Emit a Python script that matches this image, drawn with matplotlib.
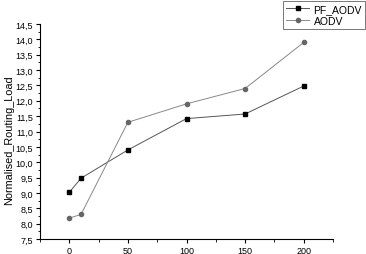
import matplotlib
matplotlib.use("Agg")
import matplotlib.pyplot as plt
from matplotlib.ticker import MultipleLocator, FuncFormatter

x = [0, 10, 50, 100, 150, 200]
pf_aodv = [9.02, 9.48, 10.4, 11.42, 11.57, 12.48]
aodv = [8.18, 8.3, 11.3, 11.9, 12.4, 13.9]

plt.rcParams['font.family'] = ['Liberation Sans', 'DejaVu Sans']
fig = plt.figure(figsize=(3.66, 2.55), dpi=100)
ax = fig.add_axes([40/366, 15/255, 293/366, 215/255])

ax.plot(x, pf_aodv, color='#555555', lw=0.7, marker='s', ms=3.2,
        mfc='black', mec='black', label='PF_AODV')
ax.plot(x, aodv, color='#888888', lw=0.7, marker='o', ms=3.0,
        mfc='#666666', mec='#666666', label='AODV')

ax.set_xlim(-25, 225)
ax.set_ylim(7.5, 14.5)
ax.xaxis.set_major_locator(MultipleLocator(50))
ax.xaxis.set_minor_locator(MultipleLocator(25))
ax.yaxis.set_major_locator(MultipleLocator(0.5))
ax.yaxis.set_minor_locator(MultipleLocator(0.25))
ax.yaxis.set_major_formatter(FuncFormatter(lambda v, p: f"{v:.1f}".replace('.', ',')))
for s in ['top', 'right']:
    ax.spines[s].set_visible(False)
for s in ['left', 'bottom']:
    ax.spines[s].set_linewidth(0.8)
ax.tick_params(which='major', direction='out', length=3, width=0.8, labelsize=6.5, pad=2)
ax.tick_params(which='minor', direction='out', length=1.8, width=0.6)
ax.set_ylabel('Normalised_Routing_Load', fontsize=7.8)
ax.yaxis.set_label_coords(-0.09, 0.465)

leg = fig.legend(loc='upper right', bbox_to_anchor=(365/366, 1 - 2/255), fontsize=7.5,
                 frameon=True, fancybox=False, edgecolor='#555555', handlelength=2.2,
                 borderpad=0.3, labelspacing=0.15, handletextpad=0.4, borderaxespad=0)
leg.get_frame().set_linewidth(0.7)

fig.savefig('out.png', dpi=100)
